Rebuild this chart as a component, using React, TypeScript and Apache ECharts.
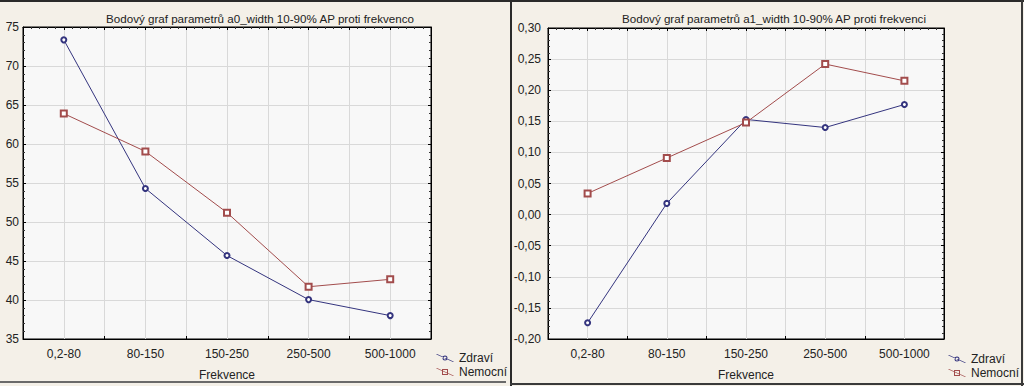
import React, { useEffect, useRef } from "react";
import * as echarts from "echarts";

const categories = ["0,2-80", "80-150", "150-250", "250-500", "500-1000"];
const seriesNames = ["Zdraví", "Nemocní"];
const a0Zdravi = [73.35, 54.3, 45.7, 40.05, 38.0];
const a0Nemocni = [63.9, 59.05, 51.2, 41.7, 42.65];
const a1Zdravi = [-0.174, 0.018, 0.153, 0.14, 0.177];
const a1Nemocni = [0.034, 0.091, 0.148, 0.242, 0.215];
const titles = [
  "Bodový graf parametrů a0_width 10-90% AP proti frekvenco",
  "Bodový graf parametrů a1_width 10-90% AP proti frekvenci",
];
const xName = "Frekvence";

const BLUE = "#34347e";
const RED = "#a24c4c";
const FONT = "Arial, 'Liberation Sans', sans-serif";
const BG = "#f4f0e8";

const DIAG = "M0,0.3 L1,0 L18,7.7 L17,8 Z ";
const ICON_CIRCLE =
  "path://" +
  DIAG +
  "M11.5,4 A2.5,2.5 0 1,1 6.5,4 A2.5,2.5 0 1,1 11.5,4 Z M10.5,4 A1.5,1.5 0 1,0 7.5,4 A1.5,1.5 0 1,0 10.5,4 Z";
const ICON_SQUARE =
  "path://" + DIAG + "M6,1 L12,1 L12,7 L6,7 Z M7,2 L7,6 L11,6 L11,2 Z";

export default function App() {
  const ref = useRef<HTMLDivElement>(null);
  useEffect(() => {
    if (!ref.current) return;
    const chart = echarts.init(ref.current, null, { renderer: "svg" });
    const grids = [
      { left: 23, top: 27, width: 408, height: 316 },
      { left: 548, top: 28, width: 396, height: 315 },
    ];
    const catAxis = (gi: number) => ({
      type: "category",
      gridIndex: gi,
      data: categories,
      boundaryGap: true,
      name: xName,
      nameLocation: "middle",
      nameGap: 30,
      nameTextStyle: { fontFamily: FONT, fontSize: 12, color: "#222" },
      axisLine: { show: true, onZero: false, lineStyle: { color: "#000", width: 1 } },
      axisTick: { show: true, inside: true, length: 3, lineStyle: { color: "#000" } },
      axisLabel: { fontFamily: FONT, fontSize: 12, color: "#222", margin: 9 },
      splitLine: { show: false },
    });
    const gridX = (gi: number) => ({
      type: "value",
      gridIndex: gi,
      min: 0,
      max: 10,
      interval: 1,
      show: true,
      position: "top",
      axisLine: { show: true, onZero: false, lineStyle: { color: "#000" } },
      axisTick: { show: true, inside: true, length: 3, lineStyle: { color: "#000" } },
      minorTick: { show: true, splitNumber: 5, length: 2, lineStyle: { color: "#333" } },
      axisLabel: { show: false },
      splitLine: { show: true, lineStyle: { color: "#d9d9d9", width: 1 } },
    });
    const yAxis = (gi: number, min: number, max: number, interval: number, fmt: (v: number) => string, margin: number) => ({
      type: "value",
      gridIndex: gi,
      min,
      max,
      interval,
      axisLine: { show: true, onZero: false, lineStyle: { color: "#000" } },
      axisTick: { show: true, inside: true, length: 3, lineStyle: { color: "#000" } },
      minorTick: { show: true, splitNumber: 5, length: 2, lineStyle: { color: "#333" } },
      axisLabel: { fontFamily: FONT, fontSize: 12, color: "#222", margin, formatter: fmt },
      splitLine: { show: true, lineStyle: { color: "#d9d9d9", width: 1 } },
    });
    const yRight = (gi: number, min: number, max: number, interval: number) => ({
      type: "value",
      gridIndex: gi,
      min,
      max,
      interval,
      position: "right",
      axisLine: { show: true, onZero: false, lineStyle: { color: "#000" } },
      axisTick: { show: true, inside: true, length: 3, lineStyle: { color: "#000" } },
      minorTick: { show: true, splitNumber: 5, length: 2, lineStyle: { color: "#333" } },
      axisLabel: { show: false },
      splitLine: { show: false },
    });
    const line = (name: string, data: number[], gi: number, color: string, symbol: string, size: number) => ({
      type: "line",
      name,
      xAxisIndex: gi * 2,
      yAxisIndex: gi * 2,
      data,
      symbol,
      symbolSize: size,
      showSymbol: true,
      lineStyle: { color, width: 1 },
      itemStyle: { color, borderColor: color, borderWidth: 1 },
      emphasis: { disabled: true },
    });
    const legend = (left: number, top: number, name: string, icon: string, color: string) => ({
      left,
      top,
      orient: "vertical",
      itemWidth: 18,
      itemHeight: 8,
      padding: 0,
      itemGap: 5,
      data: [{ name, icon, itemStyle: { color, borderWidth: 0 } }],
      textStyle: { fontFamily: FONT, fontSize: 12, color: "#222" },
      selectedMode: false,
    });
    chart.setOption({
      animation: false,
      backgroundColor: BG,
      title: [
        {
          text: titles[0],
          left: 255,
          textAlign: "center",
          top: 7,
          textStyle: { fontFamily: FONT, fontSize: 11.6, fontWeight: "normal", color: "#222" },
        },
        {
          text: titles[1],
          left: 769,
          textAlign: "center",
          top: 7,
          textStyle: { fontFamily: FONT, fontSize: 11.6, fontWeight: "normal", color: "#222" },
        },
      ],
      legend: [
        legend(436, 352, seriesNames[0], ICON_CIRCLE, BLUE),
        legend(436, 366, seriesNames[1], ICON_SQUARE, RED),
        legend(948, 353, seriesNames[0], ICON_CIRCLE, BLUE),
        legend(948, 367, seriesNames[1], ICON_SQUARE, RED),
      ],
      grid: grids.map((g) => ({ ...g, show: true, backgroundColor: "#f8f8f8", borderColor: "#000", borderWidth: 1 })),
      xAxis: [catAxis(0), gridX(0), catAxis(1), gridX(1)],
      yAxis: [
        yAxis(0, 35, 75, 5, (v: number) => String(v), 4),
        yRight(0, 35, 75, 5),
        yAxis(1, -0.2, 0.3, 0.05, (v: number) => v.toFixed(2).replace(".", ","), 7),
        yRight(1, -0.2, 0.3, 0.05),
      ],
      series: [
        line(seriesNames[0], a0Zdravi, 0, BLUE, "emptyCircle", 5),
        line(seriesNames[1], a0Nemocni, 0, RED, "emptyRect", 6),
        line(seriesNames[0], a1Zdravi, 1, BLUE, "emptyCircle", 5),
        line(seriesNames[1], a1Nemocni, 1, RED, "emptyRect", 6),
      ],
      graphic: [
        { type: "rect", shape: { x: 0, y: 0, width: 1024, height: 2 }, style: { fill: "#2a2a2a" }, silent: true },
        { type: "rect", shape: { x: 0, y: 381, width: 506, height: 2 }, style: { fill: "#6a6a6a" }, silent: true },
        { type: "rect", shape: { x: 510, y: 0, width: 2, height: 386 }, style: { fill: "#2a2a2a" }, silent: true },
        { type: "rect", shape: { x: 510, y: 383, width: 514, height: 2 }, style: { fill: "#3a3a3a" }, silent: true },
        { type: "rect", shape: { x: 1021, y: 0, width: 2, height: 386 }, style: { fill: "#3a3a3a" }, silent: true },
      ],
    });
    return () => chart.dispose();
  }, []);
  return (
    <div
      ref={ref}
      style={{ position: "absolute", left: 0, top: 0, width: 1024, height: 386 }}
    />
  );
}
